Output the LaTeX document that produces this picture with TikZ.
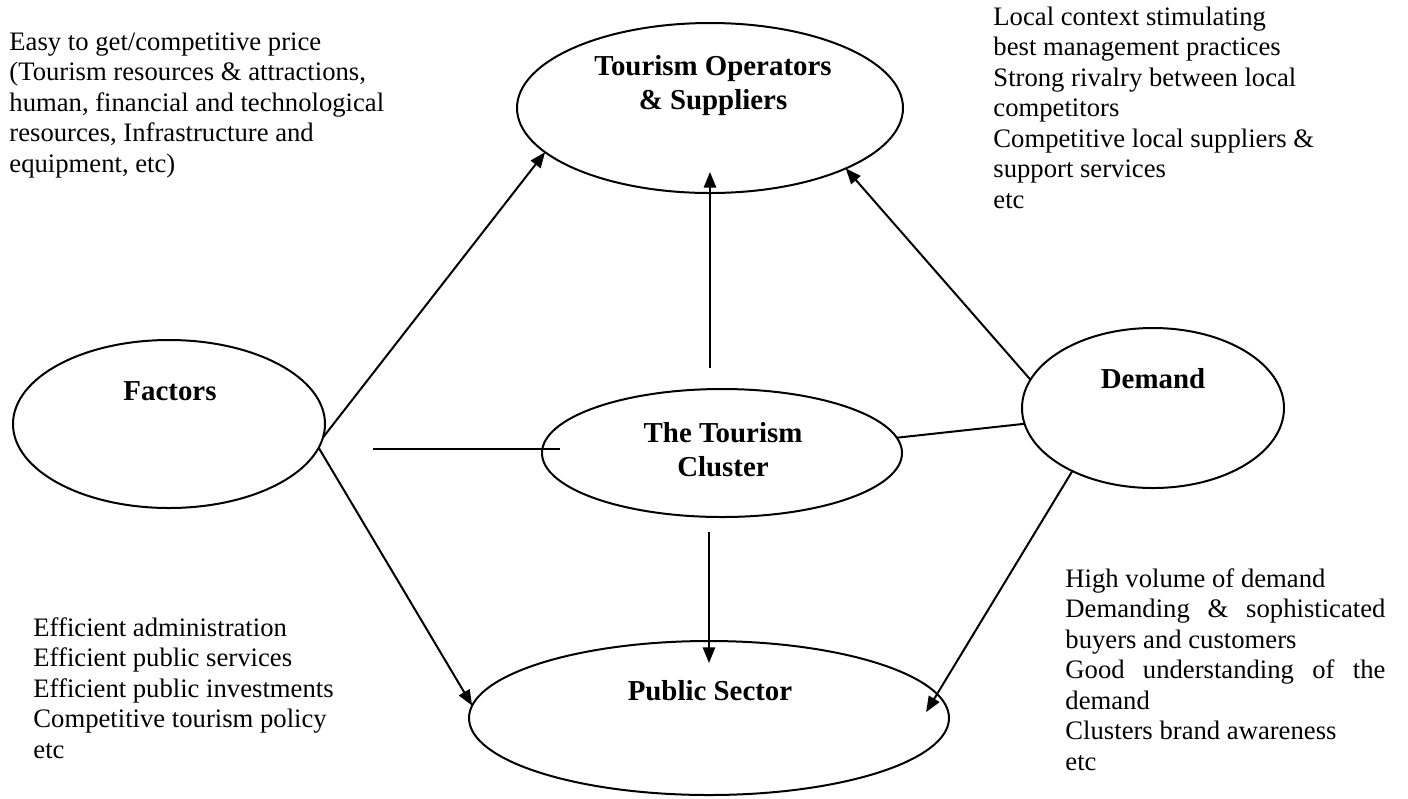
\documentclass[tikz,border=0pt]{standalone}
\usepackage{fontspec}
\setmainfont{Liberation Serif}
\usetikzlibrary{shapes.geometric,arrows.meta,calc}
\begin{document}
\begin{tikzpicture}[x=0.45pt,y=-0.45pt,
  bubble/.style={draw,ellipse,line width=0.9pt,inner sep=0pt,outer sep=0pt},
  conn/.style={line width=0.9pt},
  arr/.style={conn,-{Triangle[length=7pt,width=5.5pt]}},
  note/.style={anchor=north west,inner sep=0pt,align=left,font=\fontsize{12pt}{13.725pt}\selectfont},
  title/.style={anchor=north,inner sep=0pt,align=center,font=\fontsize{13pt}{15.3pt}\selectfont\bfseries}]

\useasboundingbox (0,0) rectangle (1408,798);

% ellipses
\node[bubble,minimum width=173.7pt,minimum height=76.5pt] (T) at (710,108) {};
\node[bubble,minimum width=140.4pt,minimum height=75.6pt] (F) at (169,424) {};
\node[bubble,minimum width=162pt,minimum height=57.6pt] (C) at (722,453) {};
\node[bubble,minimum width=117.9pt,minimum height=72pt] (D) at (1153,408) {};
\node[bubble,minimum width=216pt,minimum height=69.3pt] (P) at (709,718) {};

% titles
\node[title] (Tt) at (713,51.2) {\strut Tourism Operators\\\& Suppliers};
\node[title] (Ct) at (723,418.2) {\strut The Tourism\\Cluster};
\node[title] (Ft) at (170,376.2) {\strut Factors};
\node[title] (Dt) at (1153,364.2) {\strut Demand};
\node[title] (Pt) at (710,676.2) {\strut Public Sector};

% notes
\node[note] (tl) at (9,28.65) {\strut Easy to get/competitive price\\
(Tourism resources \& attractions,\\
human, financial and technological\\
resources, Infrastructure and\\
equipment, etc)};
\node[note] (tr) at (993,3.65) {\strut Local context stimulating\\
best management practices\\
Strong rivalry between local\\
competitors\\
Competitive local suppliers \&\\
support services\\
etc};
\node[note] (bl) at (33,614.65) {\strut Efficient administration\\
Efficient public services\\
Efficient public investments\\
Competitive tourism policy\\
etc};
\node[note] (br) at (1065,565.65) {\strut High volume of demand\\
\makebox[144pt][s]{Demanding \& sophisticated}\\
buyers and customers\\
\makebox[144pt][s]{Good understanding of the}\\
demand\\
Clusters brand awareness\\
etc};

% connectors
\draw[arr] (F.-5) -- (T.195);
\draw[arr,shorten <=9.45pt,shorten >=-9.45pt] (C.north -| T.south) -- (T.south);
\draw[arr] (D.167) -- (T.-24);
\draw[conn] ($(C.west)+(-169,-4)$) -- ($(C.west)+(18,-4)$);
\draw[conn] (C.5) -- (D.187);
\draw[arr] (F.-9) -- (P.177);
\draw[arr,shorten <=6.75pt,shorten >=-9.9pt] (C.south -| P.north) -- (P.north);
\draw[arr,shorten >=-9.5pt] (D.218) -- (P.6);
\end{tikzpicture}
\end{document}
